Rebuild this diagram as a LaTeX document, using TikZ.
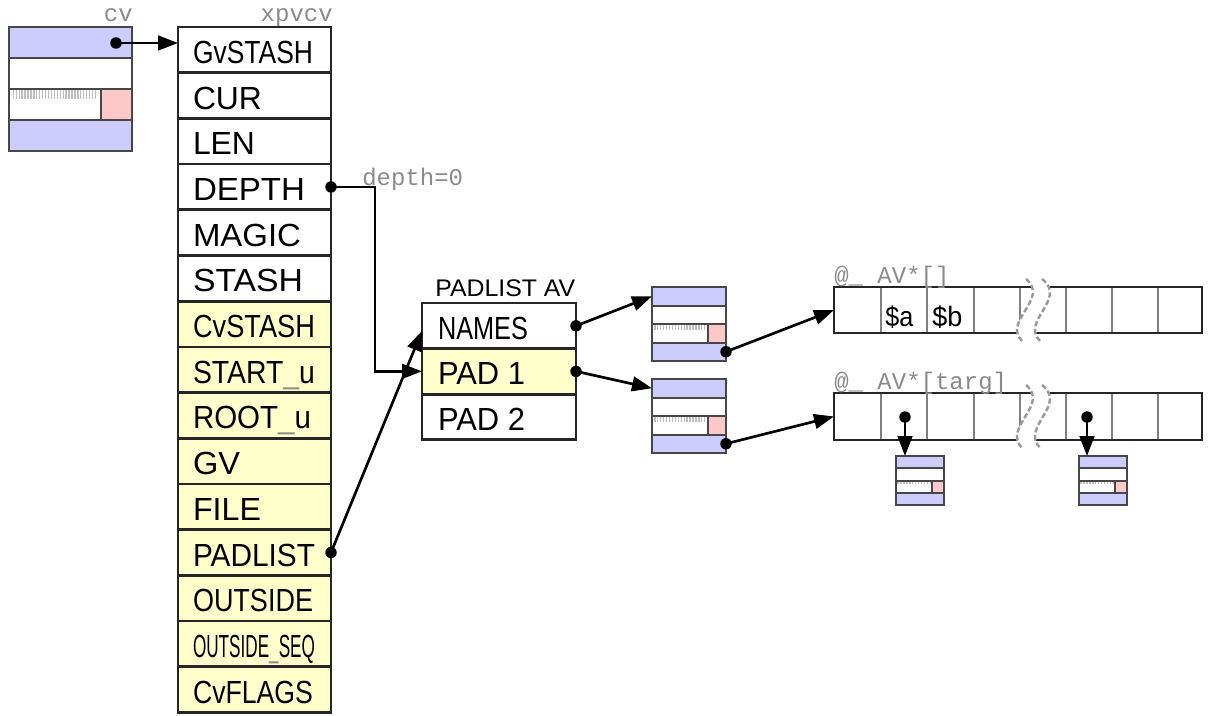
\documentclass[tikz,border=0pt]{standalone}
\usepackage{fontspec}
\usepackage{graphicx}
\setmainfont{Liberation Sans}
\newfontfamily\monof{Liberation Mono}
\usetikzlibrary{arrows.meta,calc}
\newdimen\pxu \pxu=0.75pt
\definecolor{avblue}{HTML}{CCCCFF}
\definecolor{avpink}{HTML}{FFC8C8}
\definecolor{avyellow}{HTML}{FFFFCC}
\definecolor{lblgray}{HTML}{8A8A8A}
\newcommand\tw[2]{\resizebox{#1\pxu}{\height}{#2}}
\newcommand\xr[2]{\makebox[123\pxu][l]{\tw{#1}{#2}}}
\newcommand\us{{\color{black!45}\_}}
% struct box: name, x, y, w, h
\newcommand\svbox[5]{%
 \fill[avblue] (#2,#3) rectangle ({#2+#4},{#3+#5/4});
 \fill[avblue] (#2,{#3+0.75*#5}) rectangle ({#2+#4},{#3+#5});
 \fill[avpink] ({#2+0.75*#4},{#3+#5/2}) rectangle ({#2+#4},{#3+0.75*#5});
 \draw[tickline, line width={0.06*#5}] ({#2+0.03*#4},{#3+0.54*#5}) -- ({#2+0.72*#4},{#3+0.54*#5});
 \draw[sline] (#2,{#3+#5/4}) -- ({#2+#4},{#3+#5/4})
   (#2,{#3+#5/2}) -- ({#2+#4},{#3+#5/2})
   (#2,{#3+0.75*#5}) -- ({#2+#4},{#3+0.75*#5})
   ({#2+0.75*#4},{#3+#5/2}) -- ({#2+0.75*#4},{#3+0.75*#5});
 \node[sbox, minimum width={#4*0.75pt}, minimum height={#5*0.75pt}] (#1) at (#2,#3) {};
 \coordinate (#1-w1) at (#2,{#3+#5/8});
 \coordinate (#1-e4) at ({#2+#4},{#3+0.875*#5});
}
% array: name, y, h
\newcommand\arrbox[3]{%
 \foreach \xx in {881,927,974,1020,1066,1112,1158} \draw[divline] (\xx,#2) -- (\xx,{#2+#3});
 \node[abox, minimum height={#3*0.75pt}] (#1) at (834,#2) {};
 \fill[white] (1026,{#2-8}) .. controls (1050,{#2+12}) and (1002,{#2+34}) .. (1022,{#2+#3+8})
   -- (1040,{#2+#3+8}) .. controls (1020,{#2+34}) and (1068,{#2+12}) .. (1042,{#2-8}) -- cycle;
 \draw[squig] (1026,{#2-8}) .. controls (1050,{#2+12}) and (1002,{#2+34}) .. (1022,{#2+#3+8});
 \draw[squig] (1042,{#2-8}) .. controls (1068,{#2+12}) and (1020,{#2+34}) .. (1040,{#2+#3+8});
}
\begin{document}
\begin{tikzpicture}[x=0.75pt,y=-0.75pt,
  rowbox/.style={draw=black!85, line width=2pt, outer sep=0pt, anchor=north west,
    minimum height=34.275pt, minimum width=114.75pt, inner xsep=11.25pt, inner ysep=0pt,
    text height=20.25pt, text depth=0pt, font=\fontsize{24}{26}\selectfont},
  yrow/.style={rowbox, fill=avyellow},
  sbox/.style={draw=black!72, line width=1.5pt, outer sep=0pt, anchor=north west, inner sep=0pt},
  sline/.style={draw=black!72, line width=1.5pt},
  tickline/.style={draw=black!25, dash pattern=on 1pt off 1.2pt},
  abox/.style={draw=black!85, line width=2.2pt, outer sep=0pt, anchor=north west, inner sep=0pt, minimum width=276pt},
  divline/.style={draw=black!50, line width=1.8pt},
  squig/.style={draw=black!40, line width=1.8pt, dash pattern=on 4pt off 2pt},
  ptr/.style={draw=black, line width=2pt, -{Triangle[length=15pt,width=11pt]}},
  mono/.style={font=\monof\fontsize{18}{20}\selectfont, text=lblgray, inner sep=0pt},
  dot/.style={fill=black}
]
\useasboundingbox (0,0) rectangle (1210,715);

% cv struct
\svbox{cv}{9}{27}{123}{124}
\coordinate (cvdot) at (116,43);

% xpvcv body
\node[rowbox] (r1) at (178,27) {\xr{120}{GvSTASH}};
\node[rowbox] (r2) at (178,72.7) {\xr{69}{CUR}};
\node[rowbox] (r3) at (178,118.4) {\xr{62}{LEN}};
\node[rowbox] (r4) at (178,164.1) {\xr{112}{DEPTH}};
\node[rowbox] (r5) at (178,209.8) {\xr{108}{MAGIC}};
\node[rowbox] (r6) at (178,255.5) {\xr{110}{STASH}};
\node[yrow] (r7) at (178,301.2) {\xr{122}{CvSTASH}};
\node[yrow] (r8) at (178,346.9) {\xr{122}{START\us u}};
\node[yrow] (r9) at (178,392.6) {\xr{118}{ROOT\us u}};
\node[yrow] (r10) at (178,438.3) {\xr{47}{GV}};
\node[yrow] (r11) at (178,484) {\xr{68}{FILE}};
\node[yrow] (r12) at (178,529.7) {\xr{122}{PADLIST}};
\node[yrow] (r13) at (178,575.4) {\xr{120}{OUTSIDE}};
\node[yrow] (r14) at (178,621.1) {\xr{122}{OUTSIDE\us SEQ}};
\node[yrow] (r15) at (178,666.8) {\xr{120}{CvFLAGS}};

\node[mono, anchor=base east] (lcv) at (133,21) {cv};
\node[mono, anchor=base east] (lxp) at (333,21) {xpvcv};

% padlist AV
\node[anchor=base west, inner sep=0pt, font=\fontsize{18}{20}\selectfont] (lpl) at (435,296) {\tw{140}{PADLIST AV}};
\node[rowbox, minimum width=115.5pt, inner xsep=12pt] (names) at (422,303) {\makebox[122\pxu][l]{\tw{90}{NAMES}}};
\node[yrow, minimum width=115.5pt, inner xsep=12pt] (pad1) at (422,348.5) {\makebox[122\pxu][l]{\tw{87}{PAD 1}}};
\node[rowbox, minimum width=115.5pt, inner xsep=12pt] (pad2) at (422,394) {\makebox[122\pxu][l]{\tw{87}{PAD 2}}};

% pad structs
\svbox{b1}{652}{287}{74}{74}
\svbox{b2}{652}{379}{74}{74}

% arrays
\arrbox{arr1}{287}{46}
\arrbox{arr2}{393}{47}
\node[mono, anchor=base west] (la1) at (834,283) {@\_ AV*[]};
\node[mono, anchor=base west] (la2) at (834,389) {@\_ AV*[targ]};
\node[anchor=base west, inner sep=0pt, font=\fontsize{21}{23}\selectfont] (ta) at (885,326) {\tw{28}{\$a}};
\node[anchor=base west, inner sep=0pt, font=\fontsize{21}{23}\selectfont] (tb) at (932,326) {\tw{30}{\$b}};

% target structs
\svbox{bA}{896}{456}{48}{49}
\svbox{bB}{1079}{456}{48}{49}
\coordinate (d1) at (905,417);
\coordinate (d2) at (1087,417);

% depth label
\node[mono, anchor=base west] (ldepth) at (362,185) {depth=0};

% connectors
\draw[ptr] (cvdot) -- (r1.west |- cvdot);
\draw[ptr] (r4.east) -- ++(44,0) |- (pad1.west);
\draw[ptr] (r12.east) -- ($(names.west)+(0,5)$);
\draw[ptr] (names.east) -- (b1-w1);
\draw[ptr] (pad1.east) -- (b2-w1);
\draw[ptr] (b1-e4) -- (arr1.west);
\draw[ptr] (b2-e4) -- (arr2.west);
\draw[ptr] (d1) -- (d1 |- bA.north);
\draw[ptr] (d2) -- (d2 |- bB.north);

% dots
\foreach \p in {cvdot,r4.east,r12.east,names.east,pad1.east,b1-e4,b2-e4,d1,d2}
  \fill[dot] (\p) circle (4.3pt);
\end{tikzpicture}
\end{document}
